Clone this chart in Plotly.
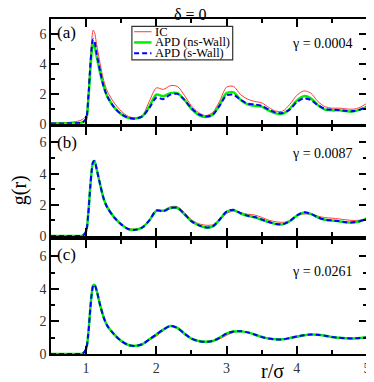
import plotly.graph_objects as go
from plotly.subplots import make_subplots

# r/sigma grid shared by all curves
r = [0.5, 0.6, 0.7, 0.8, 0.9, 0.95, 1.0, 1.03, 1.06, 1.08, 1.1, 1.12, 1.15, 1.2, 1.25, 1.3,
     1.4, 1.5, 1.6, 1.7, 1.8, 1.9, 2.0, 2.1, 2.2, 2.3, 2.4, 2.5, 2.6, 2.7, 2.8, 2.9,
     3.0, 3.1, 3.2, 3.3, 3.4, 3.5, 3.6, 3.7, 3.8, 3.9, 4.0, 4.1, 4.2, 4.3, 4.4, 4.5,
     4.6, 4.7, 4.8, 4.9, 5.0]

# panel (a), gamma = 0.0004
ic_a = [0.05, 0.06, 0.08, 0.12, 0.2, 0.3, 0.55, 2.0, 4.3, 5.6, 6.25, 6.1, 5.3, 4.0, 2.9, 2.2,
        1.4, 0.85, 0.5, 0.4, 0.55, 1.5, 2.4, 2.3, 2.55, 2.5, 1.9, 1.2, 0.75, 0.55, 0.75, 1.5,
        2.45, 2.5, 1.95, 1.65, 1.5, 1.4, 1.1, 0.85, 0.85, 1.3, 1.9, 2.2, 2.05, 1.5, 1.15, 1.05,
        1.05, 1.0, 0.98, 1.1, 1.38]
ns_a = [0.02, 0.02, 0.03, 0.04, 0.06, 0.1, 0.3, 1.5, 3.6, 4.8, 5.35, 5.2, 4.5, 3.4, 2.5, 1.85,
        1.1, 0.65, 0.4, 0.35, 0.5, 1.15, 1.95, 1.85, 2.05, 2.05, 1.6, 1.0, 0.6, 0.45, 0.6, 1.25,
        2.05, 2.1, 1.6, 1.3, 1.2, 1.15, 0.9, 0.7, 0.68, 1.0, 1.55, 1.85, 1.7, 1.25, 0.95, 0.9,
        0.9, 0.85, 0.83, 0.95, 1.13]
s_a = [0.02, 0.02, 0.03, 0.04, 0.06, 0.1, 0.35, 1.7, 3.9, 5.1, 5.65, 5.5, 4.7, 3.5, 2.5, 1.85,
       1.1, 0.65, 0.42, 0.35, 0.5, 1.05, 1.75, 1.65, 1.95, 2.0, 1.6, 1.05, 0.65, 0.5, 0.6, 1.2,
       1.9, 1.95, 1.6, 1.35, 1.3, 1.2, 0.95, 0.75, 0.72, 0.95, 1.45, 1.7, 1.6, 1.25, 1.0, 0.95,
       0.93, 0.87, 0.85, 0.95, 1.15]

# panel (b), gamma = 0.0087
ic_b = [0.0, 0.0, 0.0, 0.0, 0.0, 0.02, 0.3, 1.4, 3.2, 4.25, 4.8, 4.85, 4.3, 3.35, 2.45, 1.9,
        1.25, 0.8, 0.5, 0.45, 0.6, 1.0, 1.6, 1.65, 1.88, 1.88, 1.5, 1.05, 0.8, 0.7, 0.72, 1.0,
        1.45, 1.6, 1.5, 1.4, 1.35, 1.2, 1.02, 0.92, 0.88, 1.0, 1.3, 1.42, 1.4, 1.28, 1.18, 1.15,
        1.1, 1.04, 1.0, 1.02, 1.12]
ns_b = [0.0, 0.0, 0.0, 0.0, 0.0, 0.02, 0.3, 1.4, 3.2, 4.2, 4.75, 4.8, 4.3, 3.3, 2.4, 1.85,
        1.2, 0.75, 0.45, 0.4, 0.55, 1.0, 1.62, 1.62, 1.8, 1.8, 1.4, 0.95, 0.7, 0.55, 0.6, 1.05,
        1.55, 1.65, 1.45, 1.3, 1.2, 1.05, 0.9, 0.78, 0.75, 0.95, 1.3, 1.5, 1.42, 1.2, 1.05, 1.0,
        0.95, 0.88, 0.87, 0.95, 1.14]
s_b = [0.0, 0.0, 0.0, 0.0, 0.0, 0.02, 0.3, 1.4, 3.2, 4.2, 4.75, 4.8, 4.3, 3.3, 2.4, 1.85,
       1.2, 0.75, 0.45, 0.4, 0.55, 1.0, 1.64, 1.6, 1.8, 1.82, 1.42, 0.95, 0.7, 0.56, 0.62, 1.05,
       1.57, 1.68, 1.47, 1.3, 1.22, 1.07, 0.9, 0.78, 0.76, 0.96, 1.32, 1.52, 1.43, 1.2, 1.05, 1.0,
       0.96, 0.89, 0.88, 0.96, 1.14]

# panel (c), gamma = 0.0261
ic_c = [0.0, 0.0, 0.0, 0.0, 0.0, 0.02, 0.3, 1.2, 2.8, 3.7, 4.2, 4.25, 3.9, 3.0, 2.25, 1.75,
        1.2, 0.8, 0.55, 0.5, 0.58, 0.85, 1.1, 1.45, 1.7, 1.6, 1.25, 0.95, 0.8, 0.75, 0.78, 0.92,
        1.15, 1.33, 1.4, 1.33, 1.2, 1.05, 0.95, 0.9, 0.9, 0.96, 1.02, 1.12, 1.19, 1.18, 1.12, 1.05,
        1.0, 0.97, 0.96, 0.98, 1.02]
ns_c = [0.0, 0.0, 0.0, 0.0, 0.0, 0.02, 0.3, 1.2, 2.8, 3.7, 4.2, 4.25, 3.9, 3.0, 2.25, 1.75,
        1.2, 0.8, 0.55, 0.5, 0.6, 0.9, 1.2, 1.5, 1.72, 1.6, 1.25, 0.95, 0.8, 0.75, 0.8, 1.0,
        1.25, 1.38, 1.4, 1.33, 1.2, 1.05, 0.95, 0.9, 0.9, 0.98, 1.07, 1.15, 1.2, 1.18, 1.12, 1.05,
        1.0, 0.97, 0.96, 0.98, 1.02]
s_c = ns_c

panels = [(ic_a, ns_a, s_a), (ic_b, ns_b, s_b), (ic_c, ns_c, s_c)]
gammas = ["γ = 0.0004", "γ = 0.0087", "γ = 0.0261"]
labels = ["(a)", "(b)", "(c)"]
series_names = ["IC", "APD (ns-Wall)", "APD (s-Wall)"]

FONT = "Liberation Serif"
styles = [dict(color='#ff3a3a', width=1),
          dict(color='#00ee00', width=2.5),
          dict(color='#0000ff', width=2, dash='5px,3px')]

fig = make_subplots(rows=3, cols=1, shared_xaxes=True, vertical_spacing=0.01)

for i, curves in enumerate(panels):
    for name, y, st in zip(series_names, curves, styles):
        fig.add_trace(go.Scatter(x=r, y=y, mode='lines', name=name, showlegend=False,
                                 line=dict(shape='spline', smoothing=0.8, **st)),
                      row=i + 1, col=1)

# panel domains (fractions of the plot area)
domains = [[0.687, 1.0], [0.352, 0.678], [0.0, 0.34]]
axis_style = dict(showline=True, linecolor='black', linewidth=1.5, mirror='allticks',
                  ticks='inside', ticklen=8, tickwidth=1.5, tickcolor='black',
                  showgrid=False, zeroline=False,
                  tickfont=dict(family=FONT, size=14, color='#333'))

for i in range(3):
    yname = 'yaxis' if i == 0 else 'yaxis%d' % (i + 1)
    xname = 'xaxis' if i == 0 else 'xaxis%d' % (i + 1)
    fig.layout[yname].update(domain=domains[i], range=[0, 7], tick0=0, dtick=2,
                             minor=dict(dtick=1, ticks='inside', ticklen=4, tickcolor='black'),
                             **axis_style)
    fig.layout[xname].update(range=[0.5, 5], tick0=0, dtick=1,
                             minor=dict(dtick=0.5, ticks='inside', ticklen=4, tickcolor='black'),
                             showticklabels=(i == 2), **axis_style)

annotations = [
    dict(text="δ = 0", x=0.44, y=1.0134, font=dict(size=16)),
    dict(text="g(r)", x=-0.1, y=0.49, textangle=-90, font=dict(size=20)),
    dict(text="r/σ", x=0.70, y=-0.0507, font=dict(size=20)),
]
for lab, y in zip(labels, [0.961, 0.63, 0.296]):
    annotations.append(dict(text=lab, x=0.012, y=y, xanchor='left', font=dict(size=17)))
for g, y in zip(gammas, [0.928, 0.6, 0.245]):
    annotations.append(dict(text=g, x=0.963, y=y, xanchor='right', font=dict(size=14)))

# hand-drawn legend (plotly's own legend rows are too tall here)
legend_rows = [0.962, 0.93, 0.898]
for name, st, y in zip(series_names, styles, legend_rows):
    annotations.append(dict(text=name, x=0.322, y=y, xanchor='left', font=dict(size=12.5)))

for a in annotations:
    a.setdefault('xanchor', 'center')
    a.update(xref='paper', yref='paper', yanchor='middle', showarrow=False)
    a['font'] = dict(family=FONT, color='black', **a['font'])

# the page body has an 8px margin, so the figure is shrunk to fit the window
fig.update_layout(
    width=366, height=374,
    margin=dict(l=43, r=3, t=11, b=28),
    plot_bgcolor='white', paper_bgcolor='white',
    annotations=annotations,
    showlegend=False,
    font=dict(family=FONT),
)

# legend frame and sample lines
fig.add_shape(type='rect', xref='paper', yref='paper', x0=0.256, x1=0.575, y0=0.878, y1=0.978,
              line=dict(color='#333', width=1.2))
for st, y in zip(styles, legend_rows):
    fig.add_shape(type='line', xref='paper', yref='paper', x0=0.263, x1=0.318, y0=y, y1=y,
                  line=st)

fig.write_html("out.html")
